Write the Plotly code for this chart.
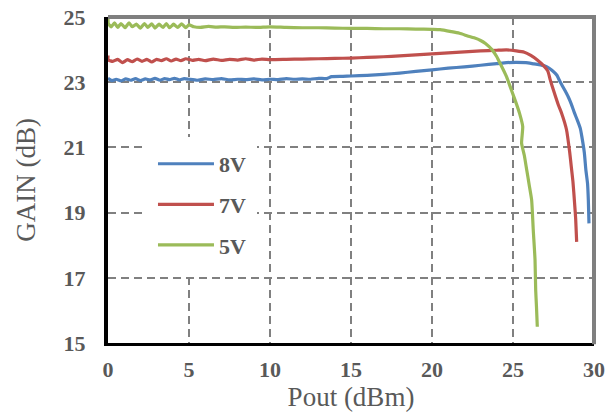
import plotly.graph_objects as go

# ---- data ----
x8 = [0, 0.25, 0.5, 0.8, 1.1, 1.4, 1.7, 2.0, 2.3, 2.6,
      2.9, 3.2, 3.5, 3.8, 4.1, 4.4, 4.7, 5.0, 5.5, 6,
      6.5, 7, 7.5, 8, 8.5, 9, 9.5, 10, 10.5, 11,
      11.5, 12, 12.5, 13, 13.5, 13.8, 14.5, 15, 16, 17,
      18, 19, 20, 21, 22, 23, 24, 24.6, 25.2, 25.8,
      26.3, 26.7, 27.1, 27.4, 27.7, 27.9, 28.2, 28.4, 28.6, 28.8,
      29.0, 29.15, 29.25, 29.4, 29.5, 29.6, 29.65, 29.69]
y8 = [23.12, 23.05, 23.09, 23.04, 23.10, 23.06, 23.11, 23.05, 23.10, 23.07,
      23.12, 23.06, 23.11, 23.08, 23.12, 23.07, 23.11, 23.09, 23.06, 23.10,
      23.08, 23.11, 23.07, 23.09, 23.08, 23.10, 23.07, 23.09, 23.08, 23.11,
      23.09, 23.10, 23.09, 23.12, 23.11, 23.17, 23.18, 23.19, 23.21, 23.24,
      23.28, 23.33, 23.38, 23.43, 23.47, 23.52, 23.57, 23.60, 23.61, 23.60,
      23.56, 23.53, 23.47, 23.37, 23.22, 23.02, 22.75, 22.56, 22.33, 22.05,
      21.80, 21.59, 21.33, 20.85, 20.30, 19.90, 19.39, 18.67]

x7 = [0, 0.02, 0.3, 0.6, 0.9, 1.2, 1.5, 1.8, 2.1, 2.4,
      2.7, 3.0, 3.3, 3.6, 3.9, 4.2, 4.5, 4.8, 5.2, 5.6,
      6, 6.5, 7, 7.5, 8, 8.5, 9, 9.5, 10, 11,
      12, 13, 14, 15, 16, 17, 18, 19, 20, 21,
      22, 23, 24, 24.6, 25.2, 25.7, 26.1, 26.5, 26.9, 27.15,
      27.3, 27.5, 27.8, 28.0, 28.3, 28.5, 28.6, 28.7, 28.8, 28.87,
      28.93]
y7 = [23.82, 23.68, 23.64, 23.70, 23.60, 23.69, 23.63, 23.71, 23.64, 23.70,
      23.62, 23.70, 23.66, 23.72, 23.65, 23.71, 23.66, 23.72, 23.67, 23.70,
      23.66, 23.71, 23.67, 23.70, 23.68, 23.72, 23.68, 23.71, 23.69, 23.70,
      23.71, 23.72, 23.73, 23.74, 23.76, 23.78, 23.81, 23.84, 23.87, 23.90,
      23.93, 23.96, 23.98, 23.99, 23.96, 23.92, 23.82, 23.68, 23.50, 23.34,
      23.07, 22.75, 22.30, 22.05, 21.55, 20.85, 20.40, 19.95, 19.30, 18.80,
      18.10]

x5 = [0, 0.02, 0.2, 0.4, 0.6, 0.8, 1.05, 1.3, 1.5, 1.75,
      2.0, 2.25, 2.45, 2.7, 2.9, 3.15, 3.4, 3.6, 3.8, 4.05,
      4.3, 4.55, 4.8, 5.0, 5.3, 5.7, 6.2, 6.7, 7.2, 7.8,
      8.5, 9.2, 10, 11, 12, 13, 14, 15, 16, 17,
      18, 19, 20, 20.5, 21.2, 21.7, 22.2, 22.6, 23.0, 23.3,
      23.7, 24.0, 24.2, 24.4, 24.6, 24.9, 25.2, 25.4, 25.6, 25.53,
      25.7, 25.85, 26.0, 26.15, 26.25, 26.36, 26.4, 26.45, 26.5]
y5 = [24.95, 24.80, 24.70, 24.82, 24.68, 24.80, 24.67, 24.82, 24.70, 24.78,
      24.66, 24.80, 24.68, 24.79, 24.66, 24.78, 24.68, 24.80, 24.67, 24.78,
      24.68, 24.79, 24.67, 24.76, 24.70, 24.68, 24.71, 24.69, 24.70, 24.68,
      24.69, 24.68, 24.70, 24.68, 24.67, 24.67, 24.66, 24.65, 24.65, 24.64,
      24.64, 24.63, 24.62, 24.61, 24.55, 24.50, 24.42, 24.36, 24.28, 24.19,
      24.00, 23.78, 23.58, 23.38, 23.17, 22.76, 22.35, 22.05, 21.64, 21.13,
      20.75, 20.30, 19.85, 19.39, 18.47, 17.55, 16.63, 16.10, 15.50]

series_names = ["8V", "7V", "5V"]
series_colors = ["#4f81bd", "#c0504d", "#9bbb59"]
x_ticks = [0, 5, 10, 15, 20, 25, 30]
y_ticks = [15, 17, 19, 21, 23, 25]

TXT = "#595959"
SERIF = "Times New Roman, Liberation Serif, serif"

fig = go.Figure()
for i, (xs, ys) in enumerate([(x8, y8), (x7, y7), (x5, y5)]):
    fig.add_trace(go.Scatter(
        x=xs, y=ys, mode="lines", name=series_names[i],
        legendgroup=series_names[i],
        line=dict(color=series_colors[i], width=3.2, shape="spline", smoothing=0.5),
    ))

fig.update_layout(
    width=615, height=417,
    margin=dict(l=108, r=21, t=17, b=74, autoexpand=False),
    paper_bgcolor="white", plot_bgcolor="white",
    font=dict(family=SERIF, color=TXT),
    showlegend=True,
    legend=dict(
        x=0.0802, y=0.632, xanchor="left", yanchor="top",
        bgcolor="white", bordercolor="white", borderwidth=6,
        font=dict(family=SERIF, size=22, color=TXT, weight="bold"),
        tracegroupgap=9, itemwidth=56,
    ),
    xaxis=dict(
        range=[0, 30], tickvals=x_ticks, ticks="",
        ticklabelstandoff=5, automargin=False,
        tickfont=dict(family=SERIF, size=22, color=TXT, weight="bold"),
        showgrid=True, gridcolor="#808080", gridwidth=1.5, griddash="8px,5px",
        showline=True, linecolor="black", linewidth=3,
        zeroline=False,
        title=dict(text="Pout (dBm)", font=dict(family=SERIF, size=27, color=TXT), standoff=3),
    ),
    yaxis=dict(
        range=[15, 25], tickvals=y_ticks, ticks="",
        ticklabelstandoff=14, automargin=False,
        tickfont=dict(family=SERIF, size=22, color=TXT, weight="bold"),
        showgrid=True, gridcolor="#808080", gridwidth=1.5, griddash="8px,5px",
        showline=True, linecolor="black", linewidth=4,
        zeroline=False,
        title=dict(text="GAIN (dB)", font=dict(family=SERIF, size=27, color=TXT), standoff=21),
    ),
    shapes=[
        dict(type="line", xref="paper", yref="paper", x0=0, x1=1.004, y0=1, y1=1,
             line=dict(color="#7f7f7f", width=4), layer="above"),
        dict(type="line", xref="paper", yref="paper", x0=1, x1=1, y0=-0.004, y1=1.006,
             line=dict(color="#7f7f7f", width=4), layer="above"),
    ],
)

fig.write_html("out.html")
